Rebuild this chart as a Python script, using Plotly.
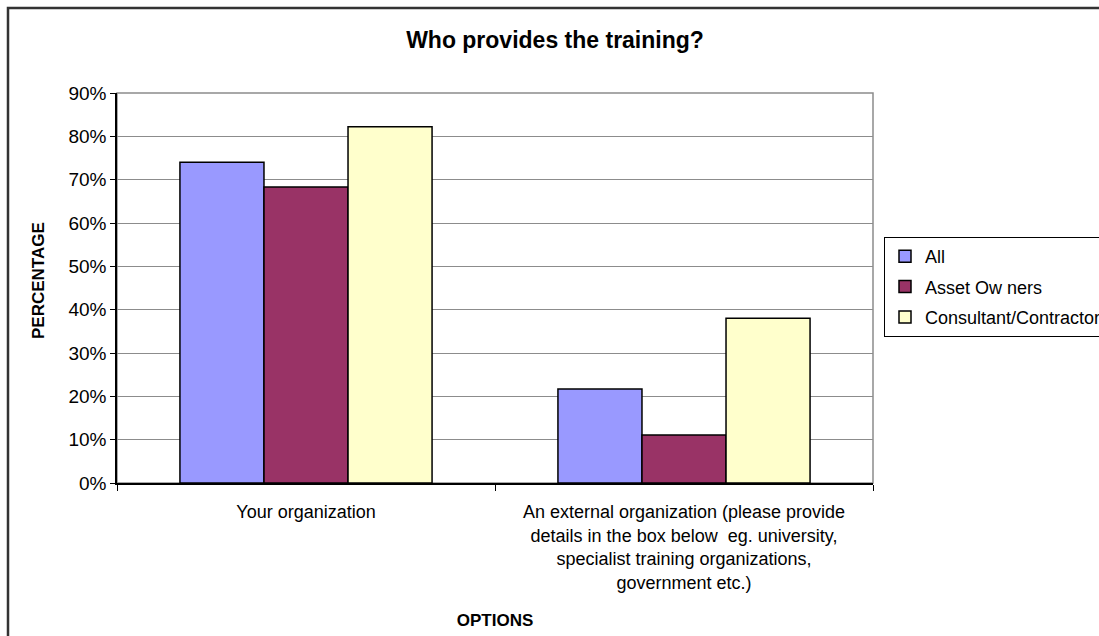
import plotly.graph_objects as go

categories = [
    "Your organization",
    "An external organization (please provide<br>details in the box below  eg. university,<br>specialist training organizations,<br>government etc.)",
]
series_names = ["All", "Asset Ow ners", "Consultant/Contractor"]
all_vals = [74, 21.7]
asset_owners_vals = [68.3, 11.1]
consultant_vals = [82.2, 38.0]
series_colors = ["#9999FF", "#993366", "#FFFFCC"]
y_ticks = [0, 10, 20, 30, 40, 50, 60, 70, 80, 90]
y_tick_labels = ["0%", "10%", "20%", "30%", "40%", "50%", "60%", "70%", "80%", "90%"]

FONT = "Liberation Sans, Arial, sans-serif"

fig = go.Figure()
for name, vals, col in zip(series_names, [all_vals, asset_owners_vals, consultant_vals], series_colors):
    fig.add_trace(go.Bar(
        x=categories, y=vals, name=name, legendgroup=name,
        marker=dict(color=col, line=dict(color="black", width=1.5)),
    ))

W, H = 1099, 636
L, R, T, B = 117, 873, 93, 483
pw, ph = R - L, B - T

def px_x(x):
    return (x - L) / pw

def px_y(y):
    return (B - y) / ph

fig.update_layout(
    width=W, height=H,
    margin=dict(l=L, r=W - R, t=T, b=H - B, autoexpand=False),
    paper_bgcolor="white", plot_bgcolor="white",
    font=dict(family=FONT, color="black", size=17),
    barmode="group", bargap=0.333, bargroupgap=0,
    title=dict(text="<b>Who provides the training?</b>", x=555 / W, xref="container",
               xanchor="center", y=1 - 40 / H, yref="container", yanchor="middle",
               font=dict(size=23, family=FONT)),
    legend=dict(x=px_x(884), xanchor="left", y=px_y(237), yanchor="top",
                bordercolor="black", borderwidth=1, bgcolor="white",
                font=dict(size=18, family=FONT), tracegroupgap=4,
                itemclick=False),
    xaxis=dict(
        type="category", showline=True, linecolor="black", linewidth=1.5,
        ticks="outside", ticklen=6, tickcolor="black", tickson="boundaries",
        tickfont=dict(size=18, family=FONT), ticklabelstandoff=12,
        title=dict(text="<b>OPTIONS</b>", font=dict(size=17, family=FONT), standoff=23),
        showgrid=False,
    ),
    yaxis=dict(
        range=[0, 90], tickmode="array", tickvals=y_ticks, ticktext=y_tick_labels,
        showline=True, linecolor="black", linewidth=1.5,
        ticks="outside", ticklen=5, tickcolor="black",
        tickfont=dict(size=19, family=FONT),
        showgrid=True, gridcolor="#8c8c8c", gridwidth=1,
        zeroline=False,
    ),
    annotations=[
        dict(text="<b>PERCENTAGE</b>", textangle=-90, xref="paper", yref="paper",
             x=px_x(38), y=px_y(281), xanchor="center", yanchor="middle",
             showarrow=False, font=dict(size=17, family=FONT)),
    ],
    shapes=[
        dict(type="rect", xref="paper", yref="paper", x0=0, x1=1, y0=0, y1=1,
             line=dict(color="#8c8c8c", width=1.5), layer="below"),
        dict(type="rect", xref="paper", yref="paper",
             x0=px_x(8), x1=px_x(1110), y0=px_y(650), y1=px_y(8),
             line=dict(color="#333333", width=2.5), layer="below"),
    ],
)

fig.write_html("out.html", config={"displayModeBar": False},
               post_script="document.body.style.margin='0';document.body.style.overflow='hidden';")
